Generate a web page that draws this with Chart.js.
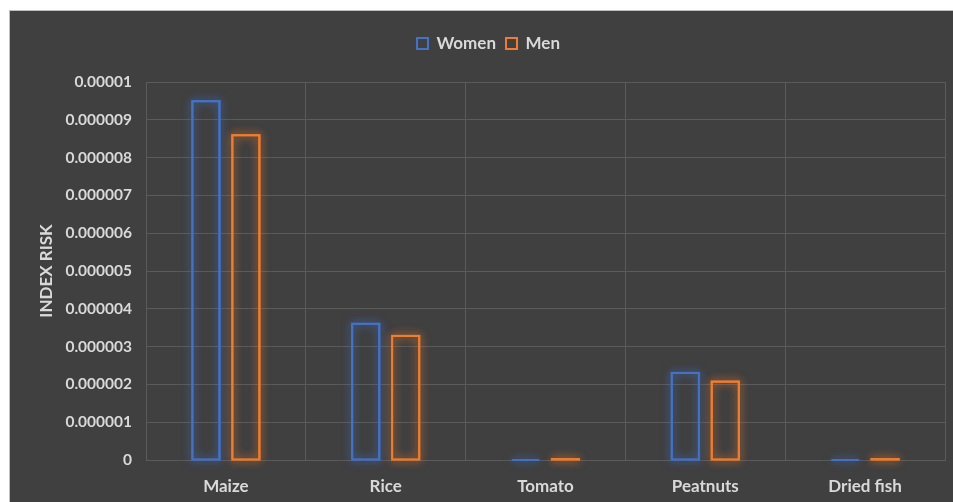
<!DOCTYPE html>
<html>
<head>
<meta charset="utf-8">
<script src="https://cdn.jsdelivr.net/npm/chart.js@4.4.1/dist/chart.umd.min.js"></script>
<style>
  html, body { margin: 0; padding: 0; background: #fff; }
  .chart-box {
    position: absolute; left: 9px; top: 10px;
    width: 944px; height: 492px;
    background: #404040;
    border-top: 1px solid #bfbfbf; border-left: 1px solid #bfbfbf;
    box-sizing: border-box;
  }
</style>
</head>
<body>
<div class="chart-box"><canvas id="riskChart"></canvas></div>
<script>
// data
const categories = ['Maize', 'Rice', 'Tomato', 'Peatnuts', 'Dried fish'];
const women = [0.00000952, 0.00000363, 0.00000002, 0.00000233, 0.00000002];
const men = [0.00000862, 0.00000331, 0.00000005, 0.00000210, 0.00000005];
const yTickLabels = ['0', '0.000001', '0.000002', '0.000003', '0.000004', '0.000005',
    '0.000006', '0.000007', '0.000008', '0.000009', '0.00001'];

const textColor = '#d9d9d9';
const gridColor = '#5b5b5b';

// soft glow round the bar outlines, drawn from the bar elements before the bars
const glowPlugin = {
    id: 'glow',
    beforeDatasetDraw(chart, args) {
        const ds = chart.data.datasets[args.index];
        const ctx = chart.ctx;
        ctx.save();
        ctx.shadowColor = ds.glowColor;
        ctx.shadowBlur = 10;
        ctx.strokeStyle = ds.glowColor;
        ctx.lineWidth = 2;
        args.meta.data.forEach(bar => {
            const p = bar.getProps(['x', 'y', 'base', 'width'], true);
            const top = Math.min(p.y, p.base);
            const h = Math.max(Math.abs(p.base - p.y), 1);
            ctx.strokeRect(p.x - p.width / 2 + 1, top + 1, p.width - 2, h - 1);
            ctx.strokeRect(p.x - p.width / 2 + 1, top + 1, p.width - 2, h - 1);
        });
        ctx.restore();
    }
};

// extra room under the legend
const legendGap = {
    id: 'legendGap',
    beforeInit(chart) {
        const fit = chart.legend.fit;
        chart.legend.fit = function () {
            fit.bind(chart.legend)();
            this.height += 20;
        };
    }
};

const el = document.getElementById('riskChart');
new Chart(el, {
    type: 'bar',
    data: {
        labels: categories,
        datasets: [{
            label: 'Women',
            data: women,
            backgroundColor: 'rgba(0,0,0,0)',
            borderColor: '#4472c4',
            glowColor: 'rgba(68,114,196,0.8)',
            borderWidth: 2,
            minBarLength: 1
        }, {
            label: 'Men',
            data: men,
            backgroundColor: 'rgba(0,0,0,0)',
            borderColor: '#ed7d31',
            glowColor: 'rgba(237,125,49,0.8)',
            borderWidth: 2,
            minBarLength: 1
        }]
    },
    options: {
        responsive: true,
        maintainAspectRatio: false,
        animation: false,
        categoryPercentage: 0.5,
        barPercentage: 0.73,
        layout: { padding: { left: 22, right: 8, top: 14, bottom: 0 } },
        plugins: {
            legend: {
                position: 'top',
                labels: {
                    color: textColor,
                    boxWidth: 11,
                    boxHeight: 11,
                    padding: 10,
                    font: { family: 'Lato', size: 17, weight: 'bold' }
                }
            },
            tooltip: { enabled: false }
        },
        scales: {
            x: {
                grid: { color: gridColor, lineWidth: 1, drawTicks: false },
                border: { color: gridColor },
                afterFit(scale) { scale.height = 42; },
                ticks: {
                    color: textColor,
                    padding: 16,
                    font: { family: 'Lato', size: 17, weight: 'bold' }
                }
            },
            y: {
                min: 0,
                max: 0.00001,
                grid: { color: gridColor, lineWidth: 1, drawTicks: false },
                border: { color: gridColor },
                afterFit(scale) { scale.width = 114; },
                title: {
                    display: true,
                    text: 'INDEX RISK',
                    color: textColor,
                    font: { family: 'Lato', size: 17, weight: 'bold' }
                },
                ticks: {
                    stepSize: 0.000001,
                    color: textColor,
                    padding: 14,
                    font: { family: 'Lato', size: 15.5, weight: 'bold' },
                    callback: (v) => yTickLabels[Math.round(v / 0.000001)]
                }
            }
        }
    },
    plugins: [glowPlugin, legendGap]
});
</script>
</body>
</html>
